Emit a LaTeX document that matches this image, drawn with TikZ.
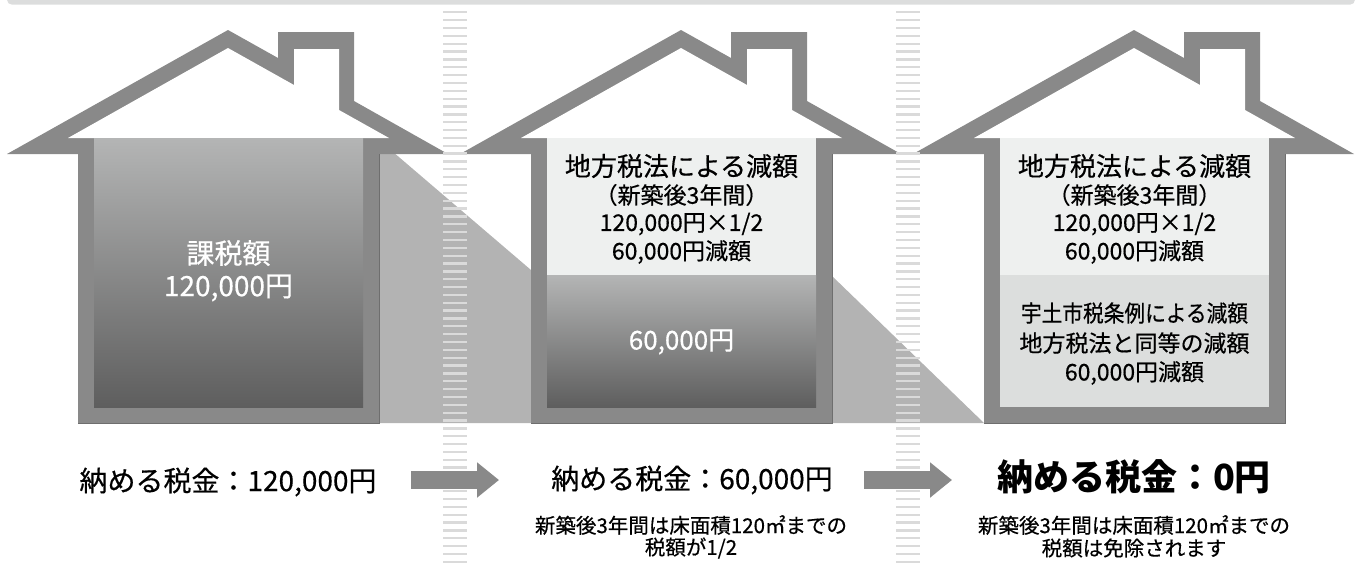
\documentclass[tikz,border=0pt]{standalone}
\usepackage{fontspec}
\newfontfamily\jp[FakeBold=0.5]{Noto Sans CJK JP}
\newfontfamily\jpb{Noto Sans CJK JP}
\usetikzlibrary{arrows.meta}
\definecolor{roofgrey}{HTML}{898989}
\definecolor{shadowgrey}{HTML}{B3B3B3}
\definecolor{boxlight}{HTML}{EEF0EF}
\definecolor{boxmid}{HTML}{DCDEDD}
\definecolor{gtop}{HTML}{B4B5B5}
\definecolor{gbot}{HTML}{5E5E5E}
\definecolor{stripegrey}{HTML}{DADADA}
\definecolor{bargrey}{HTML}{DCDDDD}
\definecolor{edgegrey}{HTML}{6E6E6E}
\begin{document}
\begin{tikzpicture}[x=1pt,y=-1pt,font=\jp,
  txt/.style={inner sep=0pt,text=black,font=\jp\fontsize{23}{23}\selectfont},
  txtbig/.style={inner sep=0pt,text=black,font=\jp\fontsize{26}{26}\selectfont},
  wtxt/.style={inner sep=0pt,text=white,font=\jp\fontsize{28}{28}\selectfont},
  paytxt/.style={inner sep=0pt,text=black,font=\jp\fontsize{28}{28}\selectfont},
  subtxt/.style={inner sep=0pt,text=black,font=\jp\fontsize{20.5}{20.5}\selectfont},
  blockarrow/.style={draw=roofgrey,line width=18pt,-{Triangle[length=22pt,width=34pt]}},
  house/.pic={
    \fill[roofgrey] (7,154) -- (228,30) -- (278,58) -- (278,32) -- (354,32) -- (354,101)
      -- (448,154) -- (379,154) -- (379,423) -- (78,423) -- (78,154) -- cycle;
    \fill[white] (68,138) -- (228,48) -- (294,85) -- (294,49) -- (339,49) -- (339,110)
      -- (389,138) -- cycle;
    \draw[edgegrey,line width=0.8pt] (78,423) -- (379,423) -- (379,154);
  }]
\useasboundingbox (0,0) rectangle (1362,565);
% top bar
\fill[bargrey,rounded corners=5pt] (7,-10) rectangle (1355,4.7);
% shadows between houses
\fill[shadowgrey] (379,140) -- (531,270) -- (531,423) -- (379,423) -- cycle;
\fill[shadowgrey] (832,276) -- (984,423) -- (832,423) -- cycle;
% houses
\pic at (0,0) {house};
\pic at (453,0) {house};
\pic at (906,0) {house};
% house contents
\shade[top color=gtop,bottom color=gbot] (94,138) rectangle (363,407);
\fill[boxlight] (547,138) rectangle (816,275);
\shade[top color=gtop,bottom color=gbot] (547,275) rectangle (816,407);
\fill[boxlight] (1000,138) rectangle (1269,275);
\fill[boxmid] (1000,275) rectangle (1269,407);
% stripes
\foreach \s in {443,896}{
  \foreach \yy in {12.3,20.15,...,562}{
    \draw[stripegrey,line width=2.3pt] (\s,\yy) -- ({\s+24},\yy);
  }
}
% arrows
\coordinate (a1s) at (411,480);
\coordinate (a1e) at (499,480);
\coordinate (a2s) at (864,480);
\coordinate (a2e) at (952,480);
\draw[blockarrow] (a1s) -- (a1e);
\draw[blockarrow] (a2s) -- (a2e);
% house 1 texts
\node[wtxt] (h1a) at (228.5,253) {課税額};
\node[wtxt] (h1b) at (228.5,288) {120,000円};
% house 2 texts
\node[txtbig] (h2a) at (681.5,166) {地方税法による減額};
\node[txt] (h2b) at (681.5,195) {（新築後3年間）};
\node[txt] (h2c) at (681.5,224) {120,000円×1/2};
\node[txt] (h2d) at (681.5,252) {60,000円減額};
\node[wtxt,font=\jp\fontsize{26}{26}\selectfont] (h2e) at (681.5,342) {60,000円};
% house 3 texts
\node[txtbig] (h3a) at (1134.5,166) {地方税法による減額};
\node[txt] (h3b) at (1134.5,195) {（新築後3年間）};
\node[txt] (h3c) at (1134.5,224) {120,000円×1/2};
\node[txt] (h3d) at (1134.5,252) {60,000円減額};
\node[txt] (h3e) at (1134.5,313) {\scalebox{0.9}[1]{宇土市税条例による減額}};
\node[txt] (h3f) at (1134.5,343) {地方税法と同等の減額};
\node[txt] (h3g) at (1134.5,373) {60,000円減額};
% bottom texts
\node[paytxt] (p1) at (228,482) {納める税金：120,000円};
\node[paytxt] (p2) at (692,480) {納める税金：60,000円};
\node[paytxt,font=\jpb\bfseries\fontsize{36}{36}\selectfont] (p3) at (1134,477) {納める税金：0円};
\node[subtxt] (s2a) at (691,525) {新築後3年間は床面積120㎡までの};
\node[subtxt] (s2b) at (691,548) {税額が1/2};
\node[subtxt] (s3a) at (1134,525) {新築後3年間は床面積120㎡までの};
\node[subtxt] (s3b) at (1134,548) {税額は免除されます};
\end{tikzpicture}
\end{document}
